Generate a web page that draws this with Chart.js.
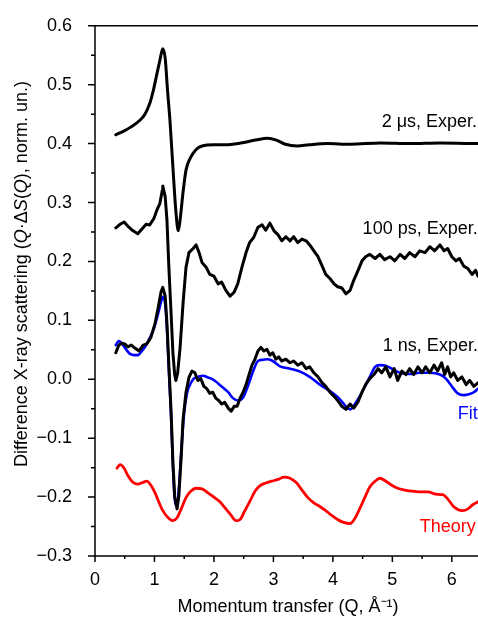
<!DOCTYPE html>
<html>
<head>
<meta charset="utf-8">
<script src="https://cdn.jsdelivr.net/npm/chart.js@4.4.1/dist/chart.umd.min.js"></script>
<style>
  html, body { margin: 0; padding: 0; background: #fff; }
  #wrap { width: 478px; height: 618px; }
</style>
</head>
<body>
<div id="wrap"><canvas id="xrayChart" width="478" height="618"></canvas></div>
<script>
// momentum transfer Q (1/Å) and Q·ΔS(Q), one pair of arrays per curve
const q2us = [0.35, 0.5, 0.6, 0.76, 0.84, 0.92, 0.98, 1.04, 1.09, 1.14, 1.18, 1.22, 1.26, 1.31, 1.36, 1.40, 1.43, 1.48, 1.53, 1.60, 1.70, 1.80, 2.0, 2.2, 2.45, 2.7, 2.9, 3.05, 3.2, 3.4, 3.6, 3.9, 4.3, 4.8, 5.3, 5.8, 6.44];
const s2us = [0.415, 0.422, 0.428, 0.44, 0.45, 0.468, 0.49, 0.518, 0.541, 0.561, 0.545, 0.49, 0.44, 0.36, 0.285, 0.252, 0.27, 0.317, 0.355, 0.375, 0.39, 0.396, 0.398, 0.398, 0.401, 0.406, 0.409, 0.406, 0.399, 0.396, 0.398, 0.40, 0.399, 0.401, 0.40, 0.401, 0.40];

const q100ps = [0.35, 0.42, 0.49, 0.55, 0.64, 0.72, 0.79, 0.86, 0.92, 0.99, 1.04, 1.09, 1.13, 1.14, 1.18, 1.21, 1.24, 1.28, 1.31, 1.34, 1.36, 1.39, 1.43, 1.48, 1.53, 1.58, 1.65, 1.70, 1.75, 1.80, 1.87, 1.93, 2.0, 2.07, 2.13, 2.20, 2.27, 2.34, 2.40, 2.47, 2.54, 2.60, 2.67, 2.74, 2.81, 2.87, 2.94, 3.01, 3.08, 3.14, 3.21, 3.28, 3.34, 3.41, 3.48, 3.55, 3.61, 3.68, 3.75, 3.82, 3.88, 3.95, 4.02, 4.08, 4.15, 4.22, 4.29, 4.35, 4.42, 4.49, 4.55, 4.62, 4.71, 4.79, 4.87, 4.96, 5.04, 5.13, 5.21, 5.29, 5.38, 5.46, 5.55, 5.63, 5.71, 5.80, 5.87, 5.93, 6.0, 6.07, 6.13, 6.20, 6.27, 6.34, 6.40, 6.44];
const s100ps = [0.257, 0.263, 0.267, 0.26, 0.252, 0.247, 0.255, 0.263, 0.262, 0.273, 0.287, 0.298, 0.32, 0.328, 0.31, 0.27, 0.195, 0.11, 0.045, 0.008, -0.002, 0.011, 0.053, 0.128, 0.19, 0.215, 0.222, 0.228, 0.215, 0.198, 0.19, 0.178, 0.175, 0.162, 0.165, 0.151, 0.141, 0.148, 0.162, 0.19, 0.215, 0.232, 0.241, 0.258, 0.262, 0.253, 0.265, 0.252, 0.245, 0.235, 0.242, 0.235, 0.242, 0.232, 0.238, 0.235, 0.228, 0.218, 0.208, 0.192, 0.178, 0.171, 0.162, 0.157, 0.155, 0.145, 0.151, 0.168, 0.184, 0.201, 0.208, 0.212, 0.205, 0.212, 0.203, 0.208, 0.201, 0.212, 0.205, 0.215, 0.208, 0.218, 0.215, 0.225, 0.218, 0.228, 0.218, 0.222, 0.208, 0.201, 0.205, 0.192, 0.188, 0.178, 0.185, 0.175];

const q1ns = [0.35, 0.40, 0.45, 0.50, 0.55, 0.61, 0.67, 0.74, 0.81, 0.87, 0.94, 1.01, 1.06, 1.11, 1.14, 1.18, 1.21, 1.24, 1.28, 1.31, 1.34, 1.38, 1.41, 1.45, 1.48, 1.53, 1.58, 1.63, 1.68, 1.73, 1.78, 1.83, 1.88, 1.93, 1.98, 2.03, 2.08, 2.13, 2.18, 2.24, 2.29, 2.34, 2.39, 2.44, 2.49, 2.54, 2.59, 2.64, 2.69, 2.74, 2.79, 2.84, 2.89, 2.94, 2.99, 3.04, 3.09, 3.14, 3.21, 3.28, 3.34, 3.41, 3.48, 3.55, 3.61, 3.68, 3.75, 3.82, 3.88, 3.95, 4.02, 4.08, 4.15, 4.22, 4.29, 4.35, 4.42, 4.49, 4.55, 4.62, 4.69, 4.76, 4.82, 4.89, 4.96, 5.03, 5.09, 5.16, 5.23, 5.29, 5.36, 5.43, 5.50, 5.56, 5.63, 5.70, 5.76, 5.83, 5.88, 5.93, 5.98, 6.03, 6.10, 6.17, 6.24, 6.30, 6.37, 6.44];
const s1ns = [0.045, 0.058, 0.061, 0.06, 0.055, 0.058, 0.053, 0.048, 0.058, 0.06, 0.071, 0.095, 0.12, 0.148, 0.156, 0.141, 0.095, 0.028, -0.056, -0.14, -0.198, -0.22, -0.198, -0.131, -0.069, -0.022, 0.003, 0.014, 0.011, -0.002, 0.001, -0.012, -0.016, -0.024, -0.022, -0.032, -0.036, -0.042, -0.039, -0.049, -0.054, -0.046, -0.046, -0.032, -0.022, -0.009, 0.008, 0.024, 0.034, 0.048, 0.054, 0.048, 0.051, 0.041, 0.045, 0.034, 0.038, 0.031, 0.034, 0.028, 0.031, 0.024, 0.028, 0.018, 0.021, 0.011, 0.004, -0.006, -0.012, -0.022, -0.029, -0.036, -0.046, -0.051, -0.042, -0.049, -0.039, -0.022, -0.009, 0.001, 0.008, 0.018, 0.011, 0.021, 0.004, 0.018, -0.002, 0.014, 0.008, 0.018, 0.008, 0.021, 0.011, 0.021, 0.011, 0.024, 0.014, 0.028, 0.008, 0.021, 0.004, 0.011, -0.002, 0.004, -0.009, -0.002, -0.012, -0.006];

const qFit = [0.35, 0.40, 0.45, 0.52, 0.59, 0.66, 0.72, 0.79, 0.86, 0.92, 0.99, 1.06, 1.11, 1.14, 1.18, 1.21, 1.24, 1.28, 1.31, 1.34, 1.38, 1.41, 1.45, 1.50, 1.55, 1.60, 1.66, 1.73, 1.82, 1.90, 1.98, 2.07, 2.15, 2.24, 2.32, 2.40, 2.49, 2.57, 2.66, 2.74, 2.82, 2.91, 2.99, 3.11, 3.28, 3.45, 3.61, 3.78, 3.95, 4.12, 4.22, 4.29, 4.37, 4.45, 4.54, 4.62, 4.71, 4.79, 4.89, 4.99, 5.13, 5.29, 5.46, 5.63, 5.80, 5.90, 6.0, 6.10, 6.20, 6.30, 6.37, 6.44];
const sFit = [0.058, 0.065, 0.061, 0.051, 0.043, 0.041, 0.041, 0.048, 0.058, 0.07, 0.086, 0.111, 0.131, 0.14, 0.128, 0.086, 0.019, -0.064, -0.148, -0.203, -0.215, -0.186, -0.123, -0.056, -0.022, -0.009, 0.001, 0.004, 0.006, 0.003, 0.0, -0.007, -0.014, -0.022, -0.032, -0.036, -0.031, -0.012, 0.014, 0.031, 0.033, 0.034, 0.031, 0.022, 0.018, 0.013, 0.004, -0.009, -0.02, -0.034, -0.046, -0.051, -0.042, -0.029, -0.012, 0.004, 0.021, 0.024, 0.023, 0.018, 0.011, 0.009, 0.011, 0.011, 0.008, 0.001, -0.012, -0.024, -0.027, -0.025, -0.022, -0.016];

const qTheory = [0.37, 0.42, 0.49, 0.55, 0.64, 0.72, 0.81, 0.87, 0.94, 1.01, 1.08, 1.14, 1.23, 1.31, 1.38, 1.45, 1.53, 1.61, 1.70, 1.80, 1.90, 2.0, 2.10, 2.20, 2.29, 2.37, 2.44, 2.52, 2.61, 2.69, 2.77, 2.87, 2.97, 3.08, 3.18, 3.28, 3.38, 3.48, 3.58, 3.68, 3.78, 3.88, 3.98, 4.08, 4.18, 4.29, 4.37, 4.45, 4.54, 4.62, 4.71, 4.79, 4.89, 4.99, 5.09, 5.21, 5.33, 5.46, 5.60, 5.73, 5.85, 5.93, 6.02, 6.10, 6.18, 6.27, 6.35, 6.44];
const sTheory = [-0.151, -0.145, -0.151, -0.163, -0.175, -0.178, -0.175, -0.173, -0.18, -0.193, -0.21, -0.223, -0.235, -0.24, -0.235, -0.22, -0.201, -0.19, -0.185, -0.186, -0.193, -0.2, -0.208, -0.22, -0.231, -0.24, -0.238, -0.223, -0.206, -0.19, -0.181, -0.176, -0.173, -0.17, -0.166, -0.168, -0.175, -0.188, -0.201, -0.21, -0.216, -0.223, -0.231, -0.238, -0.243, -0.245, -0.236, -0.22, -0.2, -0.183, -0.173, -0.168, -0.173, -0.18, -0.185, -0.188, -0.19, -0.191, -0.191, -0.195, -0.196, -0.203, -0.215, -0.221, -0.223, -0.22, -0.213, -0.208];

const xMajorTicks = [0, 1, 2, 3, 4, 5, 6];
const yMajorTicks = [-0.3, -0.2, -0.1, 0.0, 0.1, 0.2, 0.3, 0.4, 0.5, 0.6];
const curveLabels = ['2 μs, Exper.', '100 ps, Exper.', '1 ns, Exper.', 'Fit', 'Theory'];

const FONT = "'Liberation Sans', Arial, Helvetica, sans-serif";

function points(qs, vals) {
    return qs.map((q, i) => ({ x: q, y: vals[i] }));
}

// outward ticks (major + minor halfway between) and the top frame line
const axisDecor = {
    id: 'axisDecor',
    afterDraw(chart) {
        const ctx = chart.ctx;
        const xs = chart.scales.x;
        const ys = chart.scales.y;
        const a = chart.chartArea;
        ctx.save();
        ctx.strokeStyle = '#000';
        ctx.lineWidth = 1.5;
        ctx.beginPath();
        ctx.moveTo(a.left, a.top);
        ctx.lineTo(a.right, a.top);
        ctx.moveTo(a.left, a.top);
        ctx.lineTo(a.left, a.bottom);
        ctx.lineTo(a.right, a.bottom);
        yMajorTicks.forEach((v, i) => {
            const y = ys.getPixelForValue(v);
            ctx.moveTo(a.left - 7, y);
            ctx.lineTo(a.left, y);
            if (i < yMajorTicks.length - 1) {
                const ym = ys.getPixelForValue(v + 0.05);
                ctx.moveTo(a.left - 4, ym);
                ctx.lineTo(a.left, ym);
            }
        });
        xMajorTicks.forEach(v => {
            const x = xs.getPixelForValue(v);
            ctx.moveTo(x, a.bottom);
            ctx.lineTo(x, a.bottom + 6);
            const xm = xs.getPixelForValue(v + 0.5);
            if (xm < a.right) {
                ctx.moveTo(xm, a.bottom);
                ctx.lineTo(xm, a.bottom + 3);
            }
        });
        ctx.stroke();
        ctx.restore();
    }
};

// curve names written next to each curve, anchored in data units
const curveText = {
    id: 'curveText',
    afterDraw(chart) {
        const ctx = chart.ctx;
        const xs = chart.scales.x;
        const ys = chart.scales.y;
        const anchors = [[4.82, 0.437], [4.50, 0.255], [4.84, 0.056], [6.10, -0.059], [5.46, -0.25]];
        const colors = ['#000', '#000', '#000', '#0000ff', '#ff0000'];
        ctx.save();
        ctx.font = `18px ${FONT}`;
        ctx.textAlign = 'left';
        ctx.textBaseline = 'middle';
        curveLabels.forEach((txt, i) => {
            ctx.fillStyle = colors[i];
            ctx.fillText(txt, xs.getPixelForValue(anchors[i][0]), ys.getPixelForValue(anchors[i][1]));
        });
        ctx.restore();
    }
};

// axis titles; the y title mixes upright and italic pieces
const axisTitles = {
    id: 'axisTitles',
    afterDraw(chart) {
        const ctx = chart.ctx;
        ctx.save();
        ctx.fillStyle = '#000';
        ctx.font = `18px ${FONT}`;
        ctx.textAlign = 'center';
        ctx.textBaseline = 'middle';
        ctx.fillText('Momentum transfer (Q, Å\u207B\u00B9)', 288, 607);
        ctx.restore();

        ctx.save();
        const seg = [
            ['Difference X-ray scattering (', false],
            ['Q', true],
            ['·Δ', false],
            ['S', true],
            ['(', false],
            ['Q', true],
            ['), norm. un.)', false]
        ];
        let total = 0;
        seg.forEach(s => {
            ctx.font = `${s[1] ? 'italic ' : ''}18px ${FONT}`;
            s.push(ctx.measureText(s[0]).width);
            total += s[2];
        });
        ctx.translate(22, 274);
        ctx.rotate(-Math.PI / 2);
        ctx.fillStyle = '#000';
        ctx.textBaseline = 'middle';
        ctx.textAlign = 'left';
        let x = -total / 2;
        seg.forEach(s => {
            ctx.font = `${s[1] ? 'italic ' : ''}18px ${FONT}`;
            ctx.fillText(s[0], x, 0);
            x += s[2];
        });
        ctx.restore();
    }
};

const ctx = document.getElementById('xrayChart').getContext('2d');
const xrayChart = new Chart(ctx, {
    type: 'line',
    data: {
        datasets: [
            { label: '2 μs', data: points(q2us, s2us), borderColor: '#000', borderWidth: 3, cubicInterpolationMode: 'monotone' },
            { label: '100 ps', data: points(q100ps, s100ps), borderColor: '#000', borderWidth: 3, tension: 0 },
            { label: '1 ns', data: points(q1ns, s1ns), borderColor: '#000', borderWidth: 3, tension: 0 },
            { label: 'Fit', data: points(qFit, sFit), borderColor: '#0000ff', borderWidth: 2.6, cubicInterpolationMode: 'monotone' },
            { label: 'Theory', data: points(qTheory, sTheory), borderColor: '#ff0000', borderWidth: 2.8, cubicInterpolationMode: 'monotone' }
        ]
    },
    options: {
        responsive: false,
        animation: false,
        devicePixelRatio: 1,
        layout: { padding: { top: 18, right: 0, left: 0, bottom: 0 } },
        elements: { point: { radius: 0 }, line: { borderCapStyle: 'round', borderJoinStyle: 'round' } },
        plugins: {
            legend: { display: false },
            tooltip: { enabled: false }
        },
        scales: {
            x: {
                type: 'linear',
                min: 0,
                max: 6.44,
                grid: { display: false },
                border: { display: false },
                ticks: {
                    stepSize: 1,
                    includeBounds: false,
                    autoSkip: false,
                    maxRotation: 0,
                    padding: 5,
                    color: '#000',
                    font: { family: FONT, size: 18 }
                },
                afterFit(scale) { scale.height = 62; }
            },
            y: {
                type: 'linear',
                min: -0.3,
                max: 0.6,
                grid: { display: false },
                border: { display: false },
                ticks: {
                    stepSize: 0.1,
                    autoSkip: false,
                    padding: 15,
                    color: '#000',
                    font: { family: FONT, size: 18 },
                    callback: v => v.toFixed(1).replace('-', '\u2212')
                },
                afterFit(scale) { scale.width = 95; }
            }
        }
    },
    plugins: [axisDecor, curveText, axisTitles]
});
</script>
</body>
</html>
